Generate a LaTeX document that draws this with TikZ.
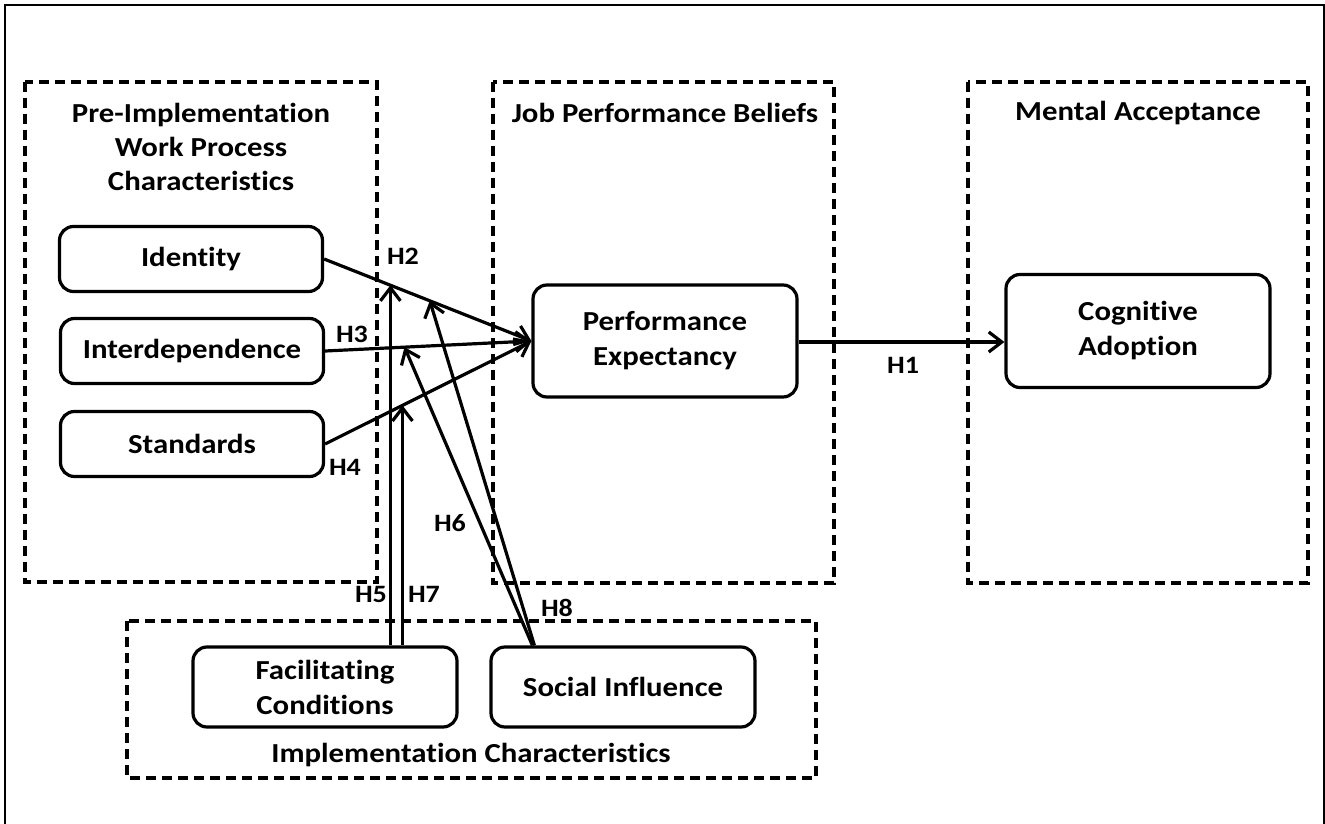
\documentclass[tikz,border=0pt]{standalone}
\usepackage{fontspec}
\setmainfont{Carlito}[Ligatures={NoCommon}, FakeStretch=1.12]
\usetikzlibrary{positioning, arrows.meta}

\begin{document}
\begin{tikzpicture}[
    x=1pt, y=-1pt,
    box/.style={draw, rounded corners=14pt, line width=3.2pt, font=\bfseries\fontsize{27.5}{35}\selectfont, align=center, inner sep=0pt},
    construct/.style={box, minimum width=263pt, minimum height=65pt},
    bigbox/.style={box, minimum width=264pt, minimum height=80pt},
    tallbox/.style={box, minimum width=264pt, minimum height=112pt},
    group/.style={draw, line width=3.4pt, dash pattern=on 10pt off 6pt},
    title/.style={font=\bfseries\fontsize{27.5}{34}\selectfont, align=center, inner sep=0pt},
    arrow/.style={-{Straight Barb[length=13pt,width=20pt,line width=3.2pt]}, line width=3.2pt},
    hyp/.style={font=\bfseries\fontsize{25}{30}\selectfont, inner sep=0pt},
]
\useasboundingbox (0,0) rectangle (1325,824);

% outer frame
\draw[line width=2.4pt] (5,840) -- (5,5) -- (1324,5) -- (1324,840);

% dashed groups
\draw[group] (25,82) rectangle (377,582);
\draw[group] (493,82) rectangle (834,583);
\draw[group] (968,82) rectangle (1308,583);
\draw[group] (127,621) rectangle (816,778);

\node[title] (t_pre) at (201,147) {Pre-Implementation\\Work Process\\Characteristics};
\node[title] (t_job) at (665,113) {Job Performance Beliefs};
\node[title] (t_ment) at (1138,113) {Mental Acceptance};
\node[title] (t_impl) at (471,755) {Implementation Characteristics};

% constructs
\node[construct] (identity) at (191,259) {Identity};
\node[construct] (interdep) at (192,351) {Interdependence};
\node[construct] (standards) at (192,444) {Standards};
\node[tallbox] (perf) at (665,341) {Performance\\Expectancy};
\node[tallbox, minimum height=113pt] (cogn) at (1138,331) {Cognitive\\Adoption};
\node[bigbox] (facil) at (325,687) {Facilitating\\Conditions};
\node[bigbox] (social) at (623,687) {Social Influence};

% main paths
\draw[arrow] (identity.east) -- coordinate[pos=0.32] (tip_h5) coordinate[pos=0.51] (tip_h8) (perf.west);
\draw[arrow] (interdep.east) -- coordinate[pos=0.385] (tip_h6) (perf.west);
\draw[arrow] (standards.east) -- coordinate[pos=0.375] (tip_h7) (perf.west);
\draw[arrow] ([yshift=-1pt]perf.east) -- ([yshift=-1pt]perf.east -| cogn.west);

% moderators
\coordinate (si_top) at ([xshift=43pt]social.north west);
\draw[arrow] (facil.north -| tip_h5) -- (tip_h5);
\draw[arrow] (facil.north -| tip_h7) -- (tip_h7);
\draw[arrow] (si_top) -- (tip_h6);
\draw[arrow] ([xshift=2pt]si_top) -- (tip_h8);

% hypotheses
\node[hyp] (h1) at (903,365) {H1};
\node[hyp] (h2) at (403,256) {H2};
\node[hyp] (h3) at (352,334) {H3};
\node[hyp] (h4) at (345,467) {H4};
\node[hyp] (h5) at (371,594) {H5};
\node[hyp] (h6) at (450,523) {H6};
\node[hyp] (h7) at (424,594) {H7};
\node[hyp] (h8) at (557,608) {H8};

\end{tikzpicture}
\end{document}
